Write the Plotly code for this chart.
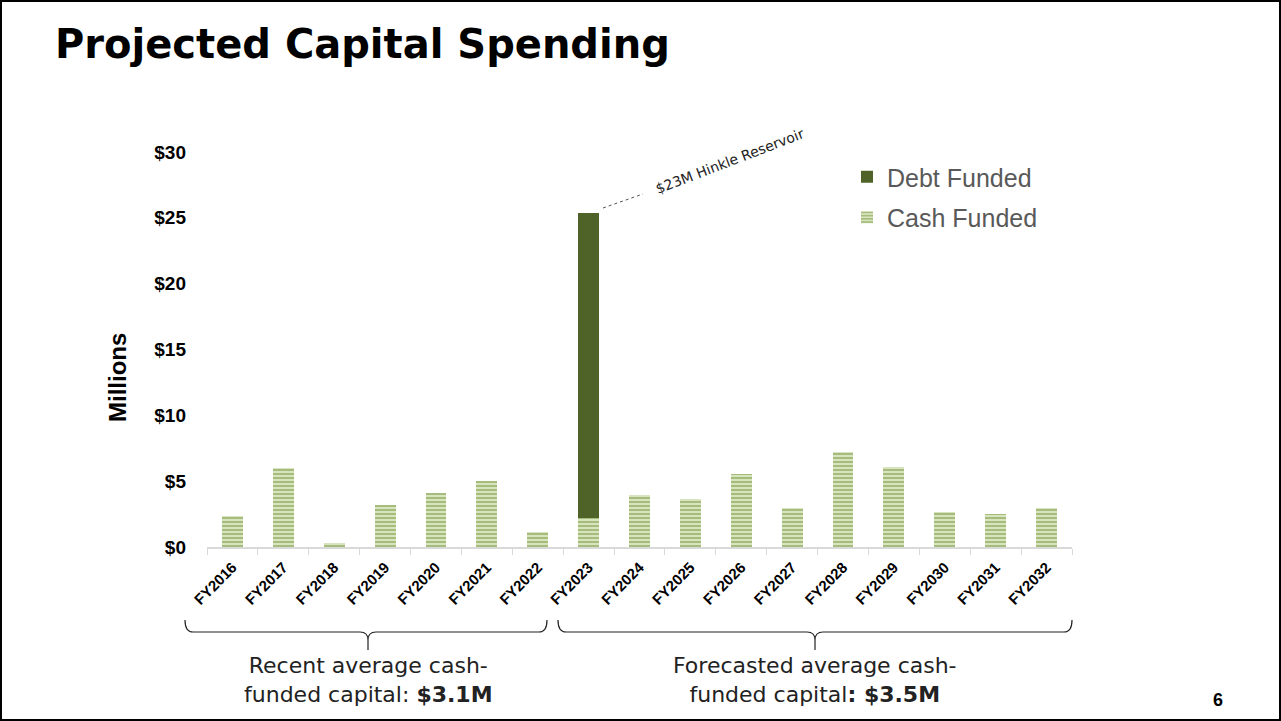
import plotly.graph_objects as go

years = ["FY2016", "FY2017", "FY2018", "FY2019", "FY2020", "FY2021", "FY2022", "FY2023",
         "FY2024", "FY2025", "FY2026", "FY2027", "FY2028", "FY2029", "FY2030", "FY2031", "FY2032"]
cash_funded = [2.35, 6.0, 0.3, 3.2, 4.1, 5.0, 1.15, 2.2, 3.95, 3.65, 5.57, 3.0, 7.2, 6.1, 2.63, 2.53, 2.98]
debt_funded = [0, 0, 0, 0, 0, 0, 0, 23.2, 0, 0, 0, 0, 0, 0, 0, 0, 0]
y_ticks = [0, 5, 10, 15, 20, 25, 30]

W, H = 1281, 721
L, R, T, B = 207, 1072, 152, 547  # plot area in pixels

ARIAL = "Arial, Liberation Sans, sans-serif"
GOTHIC = "DejaVu Sans, sans-serif"


def px(x):
    return (x - L) / (R - L)


def py(y):
    return (B - y) / (B - T)


fig = go.Figure()

fig.add_trace(go.Bar(
    x=years, y=cash_funded, name="Cash Funded", legendgroup="cash", legendrank=2,
    marker=dict(color="#d3e1b7", line=dict(width=0),
                pattern=dict(shape="-", fgcolor="#76933c", bgcolor="#d7e4bd", size=4, solidity=0.5)),
))
fig.add_trace(go.Bar(
    x=years, y=debt_funded, name="Debt Funded", legendgroup="debt", legendrank=1,
    marker=dict(color="#4f6228", line=dict(width=0)),
))

# leader line + label for the Hinkle Reservoir
fig.add_shape(type="line", xref="paper", yref="paper",
              x0=px(603), y0=py(208), x1=px(643), y1=py(194),
              line=dict(color="#555555", width=1, dash="dot"))
fig.add_annotation(xref="paper", yref="paper", x=px(730), y=py(161),
                   xanchor="center", yanchor="middle",
                   text="$23M Hinkle Reservoir", showarrow=False, textangle=-21,
                   font=dict(family=GOTHIC, size=14, color="#222222"))


def brace(x0, x1, xm):
    p = (f"M {px(x0)},{py(620)} Q {px(x0)},{py(632)} {px(x0 + 8)},{py(632)} "
         f"L {px(xm - 8)},{py(632)} Q {px(xm)},{py(632)} {px(xm)},{py(640)} L {px(xm)},{py(650)} "
         f"M {px(xm)},{py(640)} Q {px(xm)},{py(632)} {px(xm + 8)},{py(632)} "
         f"L {px(x1 - 8)},{py(632)} Q {px(x1)},{py(632)} {px(x1)},{py(620)}")
    fig.add_shape(type="path", xref="paper", yref="paper", path=p,
                  line=dict(color="#222222", width=1.2))


brace(185, 547, 368)
brace(558, 1072, 815)

note_font = dict(family=GOTHIC, size=22, color="#222222")
fig.add_annotation(xref="paper", yref="paper", x=px(368), y=py(680),
                   xanchor="center", yanchor="middle",
                   text="Recent average cash-<br>funded capital: <b>$3.1M</b>",
                   showarrow=False, font=note_font, align="center")
fig.add_annotation(xref="paper", yref="paper", x=px(815), y=py(680),
                   xanchor="center", yanchor="middle",
                   text="Forecasted average cash-<br>funded capital<b>: $3.5M</b>",
                   showarrow=False, font=note_font, align="center")

fig.add_annotation(xref="paper", yref="paper", x=px(117), y=py(378),
                   xanchor="center", yanchor="middle",
                   text="<b>Millions</b>", showarrow=False, textangle=-90,
                   font=dict(family=ARIAL, size=24, color="#000000"))
fig.add_annotation(xref="paper", yref="paper", x=px(1218), y=py(700),
                   xanchor="center", yanchor="middle",
                   text="<b>6</b>", showarrow=False,
                   font=dict(family=ARIAL, size=18, color="#000000"))

# slide border
fig.add_shape(type="rect", xref="paper", yref="paper",
              x0=px(1), y0=py(720), x1=px(1280), y1=py(1),
              line=dict(color="#000000", width=2))

fig.update_layout(
    width=W, height=H,
    margin=dict(l=L, r=W - R, t=T, b=H - B),
    barmode="stack", bargap=0.59,
    plot_bgcolor="white", paper_bgcolor="white",
    title=dict(text="<b>Projected Capital Spending</b>", x=55 / W, xanchor="left",
               y=1 - 44 / H, yanchor="middle",
               font=dict(family="DejaVu Sans, sans-serif", size=40, color="#000000")),
    legend=dict(x=px(847), y=py(154), xanchor="left", yanchor="top",
                traceorder="grouped", font=dict(family=ARIAL, size=25, color="#595959"),
                bgcolor="rgba(0,0,0,0)", tracegroupgap=5),
    showlegend=True,
)
fig.update_xaxes(
    showline=True, linecolor="#d9d9d9", linewidth=1.5,
    ticks="outside", tickson="boundaries", tickcolor="#d9d9d9", ticklen=6,
    ticklabelstandoff=4,
    tickangle=-45, tickfont=dict(family=ARIAL, size=15, color="#000000"),
    tickprefix="<b>", ticksuffix="</b>",
)
fig.update_yaxes(
    range=[0, 30], tickvals=y_ticks, ticktext=[f"<b>${v}</b>" for v in y_ticks],
    showgrid=False, zeroline=False, showline=False,
    ticklabelstandoff=20,
    tickfont=dict(family=ARIAL, size=19, color="#000000"),
)

# page body has a default margin; remove it so the figure sits at (0, 0)
fig.write_html("out.html", config={"displayModeBar": False},
               post_script="document.body.style.margin='0';")
